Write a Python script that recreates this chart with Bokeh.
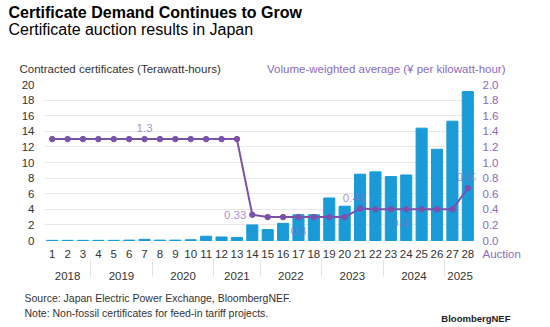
from bokeh.plotting import figure
from bokeh.layouts import column
from bokeh.models import (FactorRange, Range1d, LinearAxis, ColumnDataSource,
                          FixedTicker, NumeralTickFormatter)
from bokeh.embed import file_html
from bokeh.resources import INLINE
from bokeh.core.properties import value

auctions = [str(i) for i in range(1, 29)]
years = ["2018"] * 3 + ["2019"] * 4 + ["2020"] * 4 + ["2021"] * 3 + ["2022"] * 4 + \
        ["2023"] * 4 + ["2024"] * 4 + ["2025"] * 2
volumes = [0.02, 0.02, 0.02, 0.02, 0.02, 0.05, 0.15, 0.05, 0.05, 0.1, 0.55, 0.45, 0.38,
           2.0, 1.4, 2.2, 3.3, 3.3, 5.45, 4.4, 8.5, 8.8, 8.2, 8.4, 14.4, 11.7, 15.3, 19.1]
prices = [1.3] * 13 + [0.33] + [0.3] * 6 + [0.41] + [0.4] * 6 + [0.67]
price_label_idx = [6, 13, 16, 20, 23, 27]
price_label_txt = ["1.3", "0.33", "0.3", "0.41", "0.4", "0.67"]
vol_ticks = list(range(0, 21, 2))
price_ticks = [i / 10 for i in range(0, 21, 2)]

FONT = "Liberation Sans"
BLUE = "#1a9bd8"
PURPLE = "#7b52ab"
PURPLE_T = "#8a6bbd"
W = 550

# ---------- layout geometry (canvas pixels) ----------
TOP_H = 78            # header strip
MAIN_H = 212          # chart strip
BOT_H = 327 - TOP_H - MAIN_H
FRAME_TOP = 84 - TOP_H
ZERO_Y = 240 - TOP_H  # pixel of value 0 inside the chart strip
FRAME_BOT = 256 - TOP_H
PX_PER_UNIT = (ZERO_Y - FRAME_TOP) / 20.0
vol_low = -(FRAME_BOT - ZERO_Y) / PX_PER_UNIT
AUCTION_TICK = -0.17


def strip(h):
    f = figure(width=W, height=h, x_range=Range1d(0, W), y_range=Range1d(h, 0),
               x_axis_type=None, y_axis_type=None, output_backend="svg",
               toolbar_location=None, min_border=0, frame_align=False)
    f.outline_line_color = None
    f.xgrid.visible = False
    f.ygrid.visible = False
    return f


def put(f, x, y, text, size, color="#1a1a1a", style="normal", align="left"):
    f.text(x=[x], y=[y], text=[text], text_font=value(FONT), text_font_size=size,
           text_color=color, text_font_style=style, text_align=align,
           text_baseline="top")


# ---------- header ----------
top = strip(TOP_H)
put(top, 8, 3, "Certificate Demand Continues to Grow", "16px", "#000000", "bold")
put(top, 8, 20, "Certificate auction results in Japan", "16px", "#000000")
put(top, 19, 62, "Contracted certificates (Terawatt-hours)", "11.5px", "#333333")
put(top, 505, 62, "Volume-weighted average (¥ per kilowatt-hour)", "11.5px", PURPLE_T,
    align="right")

# ---------- main chart ----------
# auction labels get an empty second line so that the year row sits lower
factors = [(y, a + "\n") for y, a in zip(years, auctions)]
p = figure(width=W, height=MAIN_H,
           x_range=FactorRange(*factors, group_padding=0, factor_padding=0, range_padding=0),
           y_range=Range1d(vol_low, 20), output_backend="svg", toolbar_location=None,
           min_border_left=44, min_border_right=75, min_border_top=FRAME_TOP,
           min_border_bottom=MAIN_H - FRAME_BOT, frame_align=False)
p.outline_line_color = None
p.xgrid.grid_line_color = None
p.ygrid.grid_line_color = "#e8e8e8"
p.ygrid.ticker = FixedTicker(ticks=vol_ticks)
p.extra_y_ranges = {"price": Range1d(vol_low / 10, 2)}

ya = p.yaxis[0]
ya.ticker = FixedTicker(ticks=vol_ticks)
ya.axis_line_color = None
ya.major_tick_line_color = None
ya.minor_tick_line_color = None
ya.major_tick_out = 0
ya.major_tick_in = 0
ya.major_label_standoff = 10
ya.major_label_text_font = FONT
ya.major_label_text_font_size = "11.5px"
ya.major_label_text_color = "#333333"

ra = LinearAxis(y_range_name="price", ticker=FixedTicker(ticks=price_ticks + [AUCTION_TICK]))
ra.axis_line_color = None
ra.major_tick_line_color = None
ra.minor_tick_line_color = None
ra.major_tick_out = 0
ra.major_tick_in = 0
ra.major_label_standoff = 7
ra.major_label_text_font = FONT
ra.major_label_text_font_size = "11.5px"
ra.major_label_text_color = PURPLE_T
ra.formatter = NumeralTickFormatter(format="0.0")
ra.major_label_overrides = {AUCTION_TICK: "Auction"}
p.add_layout(ra, "right")

xa = p.xaxis[0]
xa.axis_line_color = None
xa.major_tick_line_color = None
xa.major_tick_out = 0
xa.major_tick_in = 0
xa.major_label_standoff = -9
xa.major_label_text_font = FONT
xa.major_label_text_font_size = "11.5px"
xa.major_label_text_line_height = 1.5
xa.major_label_text_color = "#333333"
xa.group_text_font = FONT
xa.group_text_font_size = "11.5px"
xa.group_text_font_style = "normal"
xa.group_text_color = "#333333"
xa.separator_line_color = "#e3e3e3"
xa.separator_line_width = 1

src = ColumnDataSource(dict(x=factors, vol=volumes, price=prices))
p.vbar(x="x", top="vol", width=0.72, color=BLUE, source=src)
p.line(x="x", y="price", line_color=PURPLE, line_width=2, source=src, y_range_name="price")
p.scatter(x="x", y="price", size=5.5, color=PURPLE, source=src, y_range_name="price")

lsrc = ColumnDataSource(dict(x=[factors[i] for i in price_label_idx],
                             y=[prices[i] for i in price_label_idx], t=price_label_txt,
                             xo=[0, -6, 0, -6, -6, 0], yo=[-11, 0, 14, -11, 14, -11],
                             al=["center", "right", "center", "center", "center", "center"]))
p.text(x="x", y="y", text="t", x_offset="xo", y_offset="yo", text_align="al",
       text_baseline="middle", text_font=value(FONT), text_font_size="11.5px",
       text_color=PURPLE_T, text_alpha=0.75, source=lsrc, y_range_name="price")

# ---------- footer ----------
bot = strip(BOT_H)
put(bot, 24, 1, "Source: Japan Electric Power Exchange, BloombergNEF.", "10.5px", "#333333")
put(bot, 24, 16, "Note: Non-fossil certificates for feed-in tariff projects.", "10.5px", "#333333")
put(bot, 510, 22, "BloombergNEF", "9.5px", "#222222", "bold", align="right")

layout = column(top, p, bot, spacing=0)
open("out.html", "w").write(file_html(layout, INLINE))
